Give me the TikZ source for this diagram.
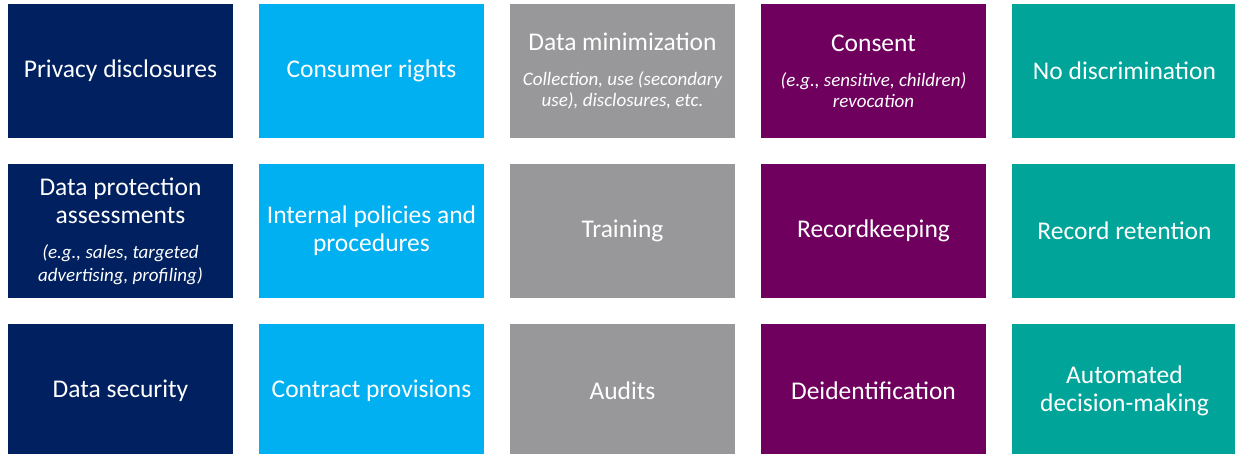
\documentclass[tikz,border=0pt]{standalone}
\usepackage{fontspec}
\setmainfont{Carlito}
\usetikzlibrary{positioning}
\definecolor{navy}{RGB}{0, 32, 96}
\definecolor{sky}{RGB}{0, 176, 240}
\definecolor{stone}{RGB}{152, 152, 154}
\definecolor{plum}{RGB}{112, 0, 94}
\definecolor{teal}{RGB}{0, 164, 153}
\newcommand{\tilenote}{\fontsize{19}{22}\selectfont\itshape}
\tikzset{
  tile/.style={minimum width=225pt, minimum height=134pt, inner sep=0pt, outer sep=0pt,
    text=white, align=center, font=\fontsize{25.5}{28}\selectfont}
}

\begin{document}
\begin{tikzpicture}[x=1pt, y=1pt, node distance=26pt]
\useasboundingbox (0,0) rectangle (1235,-454);
\clip (0,0) rectangle (1235,-454);
\node[tile, fill=navy, anchor=north west] (disc) at (8,-4) {Privacy disclosures};
\node[tile, fill=sky, right=of disc] (rights) {Consumer rights};
\node[tile, fill=stone, right=of rights] (minim) {Data minimization\\[7pt]{\tilenote Collection, use (secondary}\\[-7pt]{\tilenote use), disclosures, etc.}};
\node[tile, fill=plum, right=of minim] (consent) {Consent\\[7pt]{\tilenote (e.g., sensitive, children)}\\[-7pt]{\tilenote revocation}};
\node[tile, fill=teal, right=of consent] (nodisc) {No discrimination};

\node[tile, fill=navy, below=of disc] (dpa) {Data protection\\assessments\\[7pt]{\tilenote (e.g., sales, targeted}\\[-5pt]{\tilenote advertising, profiling)}};
\node[tile, fill=sky, below=of rights] (policies) {Internal policies and\\procedures};
\node[tile, fill=stone, below=of minim] (training) {Training};
\node[tile, fill=plum, below=of consent] (records) {Recordkeeping};
\node[tile, fill=teal, below=of nodisc] (retention) {Record retention};

\node[tile, fill=navy, below=of dpa] (security) {Data security};
\node[tile, fill=sky, below=of policies] (contract) {Contract provisions};
\node[tile, fill=stone, below=of training] (audits) {Audits};
\node[tile, fill=plum, below=of records] (deid) {Deidentification};
\node[tile, fill=teal, below=of retention] (adm) {Automated\\decision-making};
\end{tikzpicture}
\end{document}
